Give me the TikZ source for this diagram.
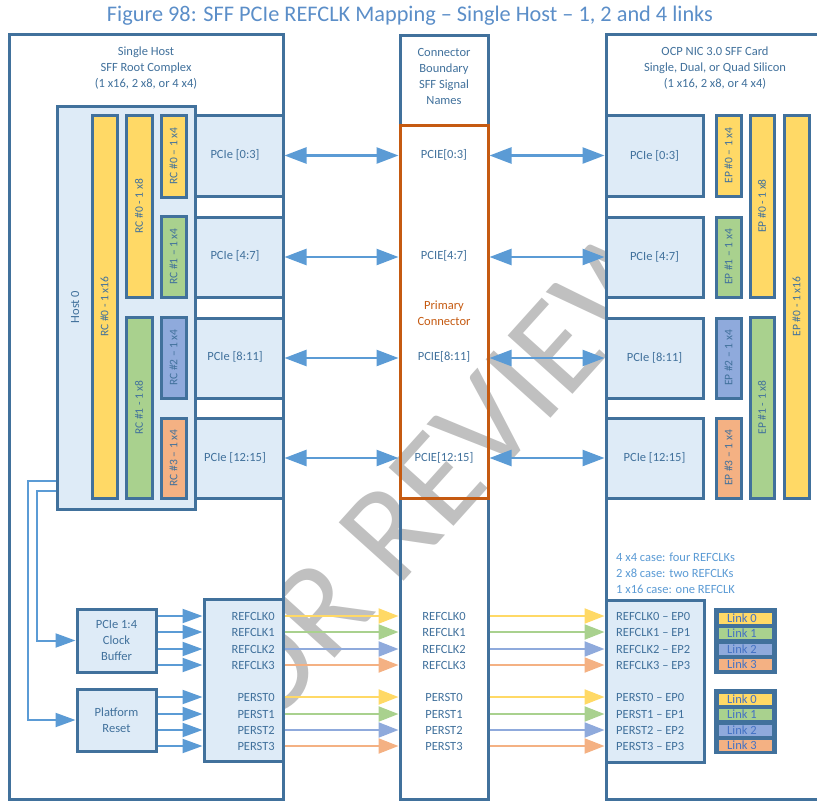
\documentclass[tikz,border=0pt]{standalone}
\usepackage{fontspec}
\setmainfont{Carlito}
\usepackage{tikz}
\usetikzlibrary{arrows.meta, positioning, fit, calc}
\definecolor{ocpdark}{HTML}{41719C}
\definecolor{ocplight}{HTML}{DEEBF7}
\definecolor{ocpblue}{HTML}{5B9BD5}
\definecolor{ocplink}{HTML}{4472C4}
\definecolor{ocpyel}{HTML}{FFD966}
\definecolor{ocpgrn}{HTML}{A9D18E}
\definecolor{ocppur}{HTML}{8FAADC}
\definecolor{ocporg}{HTML}{F4B183}
\definecolor{ocprust}{HTML}{C55A11}
\definecolor{ocptitle}{HTML}{5B8EC8}
\definecolor{wmgray}{HTML}{C0C0C0}

\begin{document}
\begin{tikzpicture}[
      x=1pt, y=-1pt,
      every node/.style={font=\fontsize{12.5}{16}\selectfont, text=ocpdark, inner sep=1pt},
      outerbox/.style={draw=ocpdark, line width=3pt, inner sep=0pt},
      panel/.style={outerbox, fill=ocplight},
      bar/.style={draw=ocpdark, line width=3pt, inner sep=0pt},
      barlbl/.style={rotate=90, font=\fontsize{11.5}{14}\selectfont},
      hdr/.style={align=center},
      biarrow/.style={{Triangle[length=22pt,width=16pt]}-{Triangle[length=22pt,width=16pt]}, line width=2.5pt, ocpblue},
      feed/.style={-{Triangle[length=20pt,width=14pt]}, line width=2pt, ocpblue},
      sig/.style={-{Triangle[length=20pt,width=15pt]}, line width=2.2pt},
      linkbar/.style={draw=ocpdark, line width=0.8pt, inner sep=0pt},
      linklbl/.style={text=ocplink, font=\fontsize{12.5}{14}\selectfont}
    ]
      \clip (0,0) rectangle (817,801);
      % watermark
      \node[font=\fontsize{136}{136}\selectfont, text=wmgray, rotate=48, anchor=base west] (wmark) at (226,779) {FOR REVIEW};

      \node[font=\fontsize{22.3}{26}\selectfont, text=ocptitle, anchor=base] (title) at (410,21) {Figure 98: SFF PCIe REFCLK Mapping – Single Host – 1, 2 and 4 links};

      % host side
      \node[outerbox, fill=white, fit={(9,34) (283,799)}] (rcside) {};
      \node[hdr] (rchdr) at (146,68) {Single Host\\SFF Root Complex\\(1 x16, 2 x8, or 4 x4)};
      \node[panel, fit={(57,106) (195,509)}] (host0) {};
      \node[rotate=90] (host0lbl) at (75,307) {Host 0};

      \node[bar, fill=ocpyel, fit={(92,115) (117,498)}] (rc0x16) {};
      \node[bar, fill=ocpyel, fit={(126,115) (152,297)}] (rc0x8) {};
      \node[bar, fill=ocpyel, fit={(161,115) (186,197)}] (rc0x4) {};
      \node[bar, fill=ocpgrn, fit={(161,216) (186,297)}] (rc1x4) {};
      \node[bar, fill=ocpgrn, fit={(126,317) (152,498)}] (rc1x8) {};
      \node[bar, fill=ocppur, fit={(161,317) (186,398)}] (rc2x4) {};
      \node[bar, fill=ocporg, fit={(161,418) (186,498)}] (rc3x4) {};
      \node[barlbl] (rc0x16lbl) at (rc0x16) {RC \#0 - 1 x16};
      \node[barlbl] (rc0x8lbl) at (rc0x8) {RC \#0 - 1 x8};
      \node[barlbl] (rc0x4lbl) at (rc0x4) {RC \#0 – 1 x4};
      \node[barlbl] (rc1x4lbl) at (rc1x4) {RC \#1 – 1 x4};
      \node[barlbl] (rc1x8lbl) at (rc1x8) {RC \#1 - 1 x8};
      \node[barlbl] (rc2x4lbl) at (rc2x4) {RC \#2 – 1 x4};
      \node[barlbl] (rc3x4lbl) at (rc3x4) {RC \#3 – 1 x4};

      \node[panel, fit={(195,115) (283,196)}] (lp1) {};
      \node[panel, fit={(195,217) (283,297)}] (lp2) {};
      \node[panel, fit={(195,318) (283,398)}] (lp3) {};
      \node[panel, fit={(195,418) (283,498)}] (lp4) {};
      \node (lp1lbl) at (235,155) {PCIe [0:3]};
      \node (lp2lbl) at (235,256) {PCIe [4:7]};
      \node (lp3lbl) at (235,357) {PCIe [8:11]};
      \node (lp4lbl) at (235,458) {PCIe [12:15]};

      \node[panel, fit={(77,609) (156,672)}] (clkbuf) {};
      \node[hdr] (clkbuflbl) at (clkbuf) {PCIe 1:4\\Clock\\Buffer};
      \node[panel, fit={(77,689) (156,751)}] (pltrst) {};
      \node[hdr] (pltrstlbl) at (pltrst) {Platform\\Reset};
      \node[panel, fit={(204,599) (283,761)}] (hostsig) {};
      \node[anchor=east] (ls0) at (276,616) {REFCLK0};
      \node[anchor=east] (ls1) at (276,632) {REFCLK1};
      \node[anchor=east] (ls2) at (276,649) {REFCLK2};
      \node[anchor=east] (ls3) at (276,665) {REFCLK3};
      \node[anchor=east] (ls4) at (276,697) {PERST0};
      \node[anchor=east] (ls5) at (276,714) {PERST1};
      \node[anchor=east] (ls6) at (276,730) {PERST2};
      \node[anchor=east] (ls7) at (276,746) {PERST3};

      \draw[feed] ([yshift=20pt]host0.south west) -- ++(-19,0) |- (clkbuf.west);
      \draw[feed] ([yshift=30pt]host0.south west) -- ++(-28,0) |- (pltrst.west);
      \draw[feed] (clkbuf.east |- ls0) -- (ls0 -| hostsig.west);
      \draw[feed] (clkbuf.east |- ls1) -- (ls1 -| hostsig.west);
      \draw[feed] (clkbuf.east |- ls2) -- (ls2 -| hostsig.west);
      \draw[feed] (clkbuf.east |- ls3) -- (ls3 -| hostsig.west);
      \draw[feed] (pltrst.east |- ls4) -- (ls4 -| hostsig.west);
      \draw[feed] (pltrst.east |- ls5) -- (ls5 -| hostsig.west);
      \draw[feed] (pltrst.east |- ls6) -- (ls6 -| hostsig.west);
      \draw[feed] (pltrst.east |- ls7) -- (ls7 -| hostsig.west);

      % connector column
      \node[outerbox, fit={(400,35) (488,799)}] (conn) {};
      \node[hdr] (connhdr) at (444,76) {Connector\\Boundary\\SFF Signal\\Names};
      \node[draw=ocprust, line width=3pt, inner sep=0pt, fit={(400,125) (488,498)}] (primary) {};
      \node[hdr, text=ocprust] (primlbl) at (444,313) {Primary\\Connector};
      \node (cp1) at (444,155) {PCIE[0:3]};
      \node (cp2) at (444,256) {PCIE[4:7]};
      \node (cp3) at (444,357) {PCIE[8:11]};
      \node (cp4) at (444,458) {PCIE[12:15]};
      \node (cs0) at (444,616) {REFCLK0};
      \node (cs1) at (444,632) {REFCLK1};
      \node (cs2) at (444,649) {REFCLK2};
      \node (cs3) at (444,665) {REFCLK3};
      \node (cs4) at (444,697) {PERST0};
      \node (cs5) at (444,714) {PERST1};
      \node (cs6) at (444,730) {PERST2};
      \node (cs7) at (444,746) {PERST3};

      % card side
      \node[outerbox, fill=white, fit={(606,34) (840,799)}] (nic) {};
      \node[hdr] (nichdr) at (715,68) {OCP NIC 3.0 SFF Card\\Single, Dual, or Quad Silicon\\(1 x16, 2 x8, or 4 x4)};
      \node[panel, fit={(606,115) (703,196)}] (rp1) {};
      \node[panel, fit={(606,217) (703,297)}] (rp2) {};
      \node[panel, fit={(606,318) (703,398)}] (rp3) {};
      \node[panel, fit={(606,418) (703,498)}] (rp4) {};
      \node (rp1lbl) at (rp1) {PCIe [0:3]};
      \node (rp2lbl) at (rp2) {PCIe [4:7]};
      \node (rp3lbl) at (rp3) {PCIe [8:11]};
      \node (rp4lbl) at (rp4) {PCIe [12:15]};

      \node[bar, fill=ocpyel, fit={(716,115) (741,196)}] (ep0x4) {};
      \node[bar, fill=ocpgrn, fit={(716,217) (741,297)}] (ep1x4) {};
      \node[bar, fill=ocppur, fit={(716,318) (741,398)}] (ep2x4) {};
      \node[bar, fill=ocporg, fit={(716,418) (741,498)}] (ep3x4) {};
      \node[bar, fill=ocpyel, fit={(750,115) (774,297)}] (ep0x8) {};
      \node[bar, fill=ocpgrn, fit={(750,317) (774,498)}] (ep1x8) {};
      \node[bar, fill=ocpyel, fit={(784,115) (809,498)}] (ep0x16) {};
      \node[barlbl] (ep0x4lbl) at (ep0x4) {EP \#0 – 1 x4};
      \node[barlbl] (ep1x4lbl) at (ep1x4) {EP \#1 – 1 x4};
      \node[barlbl] (ep2x4lbl) at (ep2x4) {EP \#2 – 1 x4};
      \node[barlbl] (ep3x4lbl) at (ep3x4) {EP \#3 – 1 x4};
      \node[barlbl] (ep0x8lbl) at (ep0x8) {EP \#0 - 1 x8};
      \node[barlbl] (ep1x8lbl) at (ep1x8) {EP \#1 - 1 x8};
      \node[barlbl] (ep0x16lbl) at (ep0x16) {EP \#0 - 1 x16};

      \node[anchor=west, align=left, text=ocpblue] (note) at (615,573) {4 x4 case: four REFCLKs\\2 x8 case: two REFCLKs\\1 x16 case: one REFCLK};
      \node[panel, fit={(606,600) (704,762)}] (nicsig) {};
      \node[anchor=west] (rs0) at (615,616) {REFCLK0 – EP0};
      \node[anchor=west] (rs1) at (615,632) {REFCLK1 – EP1};
      \node[anchor=west] (rs2) at (615,649) {REFCLK2 – EP2};
      \node[anchor=west] (rs3) at (615,665) {REFCLK3 – EP3};
      \node[anchor=west] (rs4) at (615,697) {PERST0 – EP0};
      \node[anchor=west] (rs5) at (615,714) {PERST1 – EP1};
      \node[anchor=west] (rs6) at (615,730) {PERST2 – EP2};
      \node[anchor=west] (rs7) at (615,746) {PERST3 – EP3};

      % link legends
      \node[outerbox, fill=ocpdark, line width=1pt, fit={(714,608) (776,673)}] (lkclk) {};
      \node[linkbar, fill=ocpyel, fit={(718,612) (772,624)}] (lkclk0) {};
      \node[linkbar, fill=ocpgrn, fit={(718,627) (772,639)}] (lkclk1) {};
      \node[linkbar, fill=ocppur, fit={(718,643) (772,655)}] (lkclk2) {};
      \node[linkbar, fill=ocporg, fit={(718,658) (772,670)}] (lkclk3) {};
      \node[linklbl] (lkclk0lbl) at ([xshift=-3pt]lkclk0) {Link 0};
      \node[linklbl] (lkclk1lbl) at ([xshift=-3pt]lkclk1) {Link 1};
      \node[linklbl] (lkclk2lbl) at ([xshift=-3pt]lkclk2) {Link 2};
      \node[linklbl] (lkclk3lbl) at ([xshift=-3pt]lkclk3) {Link 3};
      \node[outerbox, fill=ocpdark, line width=1pt, fit={(714,689) (776,753)}] (lkrst) {};
      \node[linkbar, fill=ocpyel, fit={(718,693) (772,705)}] (lkrst0) {};
      \node[linkbar, fill=ocpgrn, fit={(718,708) (772,720)}] (lkrst1) {};
      \node[linkbar, fill=ocppur, fit={(718,724) (772,736)}] (lkrst2) {};
      \node[linkbar, fill=ocporg, fit={(718,739) (772,751)}] (lkrst3) {};
      \node[linklbl] (lkrst0lbl) at ([xshift=-3pt]lkrst0) {Link 0};
      \node[linklbl] (lkrst1lbl) at ([xshift=-3pt]lkrst1) {Link 1};
      \node[linklbl] (lkrst2lbl) at ([xshift=-3pt]lkrst2) {Link 2};
      \node[linklbl] (lkrst3lbl) at ([xshift=-3pt]lkrst3) {Link 3};

      % PCIe lanes
      \draw[biarrow] (lp1.east) -- (lp1.east -| conn.west);
      \draw[biarrow] (lp2.east) -- (lp2.east -| conn.west);
      \draw[biarrow] (lp3.east) -- (lp3.east -| conn.west);
      \draw[biarrow] (lp4.east) -- (lp4.east -| conn.west);
      \draw[biarrow] (rp1.west -| conn.east) -- (rp1.west);
      \draw[biarrow] (rp2.west -| conn.east) -- (rp2.west);
      \draw[biarrow] (rp3.west -| conn.east) -- (rp3.west);
      \draw[biarrow] (rp4.west -| conn.east) -- (rp4.west);

      % sideband signals
      \draw[sig, ocpyel] (ls0 -| hostsig.east) -- (cs0 -| conn.west);
      \draw[sig, ocpgrn] (ls1 -| hostsig.east) -- (cs1 -| conn.west);
      \draw[sig, ocppur] (ls2 -| hostsig.east) -- (cs2 -| conn.west);
      \draw[sig, ocporg] (ls3 -| hostsig.east) -- (cs3 -| conn.west);
      \draw[sig, ocpyel] (ls4 -| hostsig.east) -- (cs4 -| conn.west);
      \draw[sig, ocpgrn] (ls5 -| hostsig.east) -- (cs5 -| conn.west);
      \draw[sig, ocppur] (ls6 -| hostsig.east) -- (cs6 -| conn.west);
      \draw[sig, ocporg] (ls7 -| hostsig.east) -- (cs7 -| conn.west);
      \draw[sig, ocpyel] (cs0 -| conn.east) -- (rs0 -| nicsig.west);
      \draw[sig, ocpgrn] (cs1 -| conn.east) -- (rs1 -| nicsig.west);
      \draw[sig, ocppur] (cs2 -| conn.east) -- (rs2 -| nicsig.west);
      \draw[sig, ocporg] (cs3 -| conn.east) -- (rs3 -| nicsig.west);
      \draw[sig, ocpyel] (cs4 -| conn.east) -- (rs4 -| nicsig.west);
      \draw[sig, ocpgrn] (cs5 -| conn.east) -- (rs5 -| nicsig.west);
      \draw[sig, ocppur] (cs6 -| conn.east) -- (rs6 -| nicsig.west);
      \draw[sig, ocporg] (cs7 -| conn.east) -- (rs7 -| nicsig.west);
    \end{tikzpicture}
\end{document}
